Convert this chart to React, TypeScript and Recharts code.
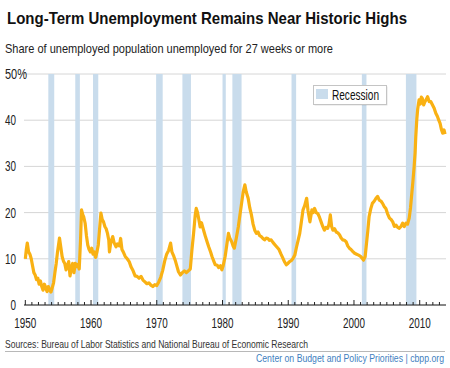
import React from "react";
import {
  CartesianGrid,
  ComposedChart,
  Line,
  ReferenceArea,
  XAxis,
  YAxis,
} from "recharts";

// share of unemployed out 27+ weeks, [year, percent]
const share1950s: [number, number][] = [
  [1950.0, 10.0], [1950.15, 12.0], [1950.3, 13.4], [1950.5, 11.5], [1950.7, 11.0], [1950.9, 10.0],
  [1951.1, 8.5], [1951.3, 7.0], [1951.5, 6.5], [1951.7, 5.5], [1951.9, 5.8], [1952.1, 4.5],
  [1952.3, 5.2], [1952.5, 4.0], [1952.7, 3.2], [1952.9, 4.5], [1953.1, 3.8], [1953.3, 2.9],
  [1953.5, 4.0], [1953.7, 3.2], [1953.9, 2.8], [1954.1, 3.8], [1954.3, 4.8], [1954.5, 7.0],
  [1954.7, 9.0], [1954.9, 11.5], [1955.1, 13.5], [1955.2, 14.5], [1955.4, 12.5], [1955.6, 10.5],
  [1955.8, 9.5], [1956.0, 9.0], [1956.2, 7.6], [1956.4, 8.5], [1956.6, 9.4], [1956.8, 6.3],
  [1957.0, 8.0], [1957.2, 9.0], [1957.4, 7.0], [1957.6, 9.0], [1957.8, 8.3], [1958.0, 8.8],
  [1958.2, 7.8], [1958.4, 14.0], [1958.55, 20.6], [1958.75, 19.5], [1958.9, 19.0], [1959.1, 17.7],
  [1959.3, 15.0], [1959.5, 13.0], [1959.7, 12.0], [1959.9, 11.5],
];

const share1960s: [number, number][] = [
  [1960.1, 12.3], [1960.3, 11.0], [1960.5, 11.5], [1960.7, 10.3], [1960.9, 11.5], [1961.1, 13.0],
  [1961.3, 16.5], [1961.5, 19.9], [1961.7, 18.5], [1961.9, 18.0], [1962.1, 17.0], [1962.3, 16.5],
  [1962.5, 15.5], [1962.7, 14.0], [1962.8, 11.5], [1963.0, 13.5], [1963.3, 14.8], [1963.5, 13.5],
  [1963.8, 12.6], [1964.0, 13.2], [1964.3, 12.8], [1964.5, 14.4], [1964.7, 12.0], [1964.9, 11.5],
  [1965.2, 10.5], [1965.5, 10.0], [1965.8, 9.4], [1966.1, 8.2], [1966.4, 7.4], [1966.7, 6.3],
  [1967.0, 6.2], [1967.3, 5.8], [1967.6, 6.2], [1967.9, 5.4], [1968.2, 5.0], [1968.5, 4.6],
  [1968.8, 4.8], [1969.1, 4.3], [1969.4, 4.0], [1969.7, 4.4],
];

const share1970s: [number, number][] = [
  [1970.0, 4.2], [1970.3, 5.0], [1970.6, 6.0], [1970.9, 7.5], [1971.2, 9.5], [1971.5, 11.0],
  [1971.8, 11.8], [1972.1, 13.4], [1972.3, 11.5], [1972.6, 10.5], [1972.8, 9.7], [1973.1, 8.2],
  [1973.3, 7.2], [1973.6, 6.5], [1973.9, 7.0], [1974.2, 7.4], [1974.5, 7.0], [1974.8, 7.4],
  [1975.1, 7.8], [1975.35, 12.0], [1975.6, 15.5], [1975.85, 19.5], [1976.0, 20.9], [1976.2, 20.0],
  [1976.4, 18.5], [1976.6, 16.9], [1976.8, 17.8], [1977.0, 16.8], [1977.2, 15.8], [1977.4, 14.8],
  [1977.7, 13.5], [1977.9, 12.6], [1978.2, 11.4], [1978.4, 10.5], [1978.7, 9.4], [1978.9, 8.7],
  [1979.2, 8.6], [1979.4, 8.1], [1979.7, 8.5], [1979.9, 7.6],
];

const share1980s: [number, number][] = [
  [1980.1, 8.5], [1980.4, 10.5], [1980.65, 13.0], [1980.9, 15.5], [1981.1, 14.5], [1981.4, 13.7],
  [1981.6, 12.8], [1981.8, 12.3], [1982.1, 14.5], [1982.4, 16.9], [1982.65, 19.5], [1982.9, 22.0],
  [1983.15, 24.5], [1983.4, 26.0], [1983.6, 24.5], [1983.9, 23.1], [1984.15, 21.0], [1984.4, 19.5],
  [1984.65, 17.5], [1984.9, 16.2], [1985.15, 15.5], [1985.4, 15.8], [1985.65, 15.0], [1985.9, 14.8],
  [1986.15, 14.4], [1986.4, 14.1], [1986.65, 14.5], [1986.9, 14.4], [1987.15, 14.0], [1987.4, 14.1],
  [1987.7, 13.5], [1988.0, 13.0], [1988.3, 12.5], [1988.6, 12.0], [1988.9, 11.0], [1989.2, 10.1],
  [1989.45, 9.3], [1989.7, 8.7], [1989.95, 9.0],
];

const share1990s: [number, number][] = [
  [1990.2, 9.4], [1990.45, 9.6], [1990.7, 10.0], [1991.0, 10.8], [1991.25, 12.5], [1991.5, 14.0],
  [1991.75, 15.5], [1992.0, 18.0], [1992.25, 20.6], [1992.5, 21.5], [1992.8, 23.1], [1993.0, 20.5],
  [1993.3, 18.0], [1993.6, 20.6], [1993.8, 20.0], [1994.0, 20.9], [1994.25, 20.0], [1994.5, 19.8],
  [1994.75, 19.0], [1995.0, 18.0], [1995.25, 17.0], [1995.5, 16.2], [1995.75, 16.8], [1996.0, 16.6],
  [1996.2, 17.5], [1996.4, 19.5], [1996.6, 17.0], [1996.8, 16.2], [1997.05, 16.5], [1997.3, 15.8],
  [1997.55, 15.6], [1997.8, 15.2], [1998.05, 14.5], [1998.3, 14.1], [1998.55, 14.0], [1998.8, 13.7],
  [1999.05, 12.8], [1999.3, 12.3], [1999.55, 12.0], [1999.8, 11.6],
];

const share2000s: [number, number][] = [
  [2000.1, 11.2], [2000.4, 11.0], [2000.7, 10.8], [2000.95, 10.6], [2001.2, 10.2], [2001.45, 9.7],
  [2001.7, 10.5], [2001.85, 12.6], [2002.1, 16.0], [2002.3, 19.1], [2002.55, 20.8], [2002.8, 22.0],
  [2003.1, 22.5], [2003.35, 23.1], [2003.6, 23.5], [2003.85, 22.7], [2004.1, 22.5], [2004.35, 22.0],
  [2004.6, 21.3], [2004.85, 20.9], [2005.1, 19.8], [2005.4, 18.8], [2005.65, 18.5], [2005.9, 18.0],
  [2006.15, 17.0], [2006.4, 17.3], [2006.65, 16.8], [2006.9, 16.6], [2007.15, 17.0], [2007.4, 17.7],
  [2007.65, 17.0], [2007.9, 17.7], [2008.15, 17.5], [2008.4, 18.8], [2008.6, 21.0], [2008.75, 23.4],
  [2008.95, 26.5], [2009.15, 29.9], [2009.3, 33.0], [2009.4, 36.4], [2009.55, 40.0], [2009.7, 42.5],
  [2009.9, 44.4],
];

const share2010s: [number, number][] = [
  [2010.1, 43.5], [2010.25, 45.0], [2010.4, 44.7], [2010.6, 43.3], [2010.8, 44.0], [2011.0, 44.5],
  [2011.2, 45.1], [2011.45, 44.0], [2011.7, 44.0], [2011.95, 43.3], [2012.2, 42.6], [2012.45, 41.5],
  [2012.7, 40.8], [2012.9, 40.0], [2013.1, 39.3], [2013.3, 38.0], [2013.5, 37.2], [2013.7, 37.9],
  [2013.85, 37.0],
];

// NBER recessions, [start, end]
const recessions: [number, number][] = [
  [1953.5, 1954.4], [1957.6, 1958.3], [1960.3, 1961.1], [1969.9, 1970.9], [1973.9, 1975.2],
  [1980.0, 1980.5], [1981.5, 1982.9], [1990.5, 1991.2], [2001.2, 2001.9], [2007.9, 2009.5],
];

const decadeLabels = [1950, 1960, 1970, 1980, 1990, 2000, 2010];
const yTicks = [0, 10, 20, 30, 40, 50];

const data = [
  ...share1950s, ...share1960s, ...share1970s, ...share1980s,
  ...share1990s, ...share2000s, ...share2010s,
].map(([year, share]) => ({ year, share }));

const yearTicks: number[] = [];
for (let y = 1950; y <= 2013; y++) yearTicks.push(y);

const FONT = '"Liberation Sans", Arial, sans-serif';

// condensed look: squeeze the text to the width it has in the original
function Squeezed({ x, y, w, size, anchor = "start", bold = false, fill = "#222", children }: any) {
  return (
    <text
      x={x}
      y={y}
      textAnchor={anchor}
      fontSize={size}
      fontWeight={bold ? 700 : 400}
      fill={fill}
      fontFamily={FONT}
      textLength={w}
      lengthAdjust="spacingAndGlyphs"
    >
      {children}
    </text>
  );
}

function YearTick({ x, y, payload }: any) {
  const v = payload.value;
  const major = v % 10 === 0;
  return (
    <g>
      <line x1={x} x2={x} y1={y - (major ? 5 : 3)} y2={y} stroke="#222" strokeWidth={1} />
      {major && decadeLabels.includes(v) ? (
        <Squeezed x={x} y={y + 23} w={22} size={14} anchor="middle">
          {v}
        </Squeezed>
      ) : null}
    </g>
  );
}

function ShareTick({ y, payload }: any) {
  const v = payload.value;
  if (v === 50) {
    return (
      <Squeezed x={5} y={y + 5} w={22} size={14}>
        50%
      </Squeezed>
    );
  }
  const label = String(v);
  return (
    <Squeezed x={16} y={y + 5} w={label.length * 5.5} size={14} anchor="end">
      {label}
    </Squeezed>
  );
}

export default function App() {
  return (
    <div
      style={{
        position: "absolute",
        left: 0,
        top: 0,
        width: 450,
        height: 368,
        background: "#fff",
        overflow: "hidden",
      }}
    >
      <div style={{ position: "absolute", left: 0, top: 0 }}>
        <ComposedChart width={450} height={368} data={data} margin={{ top: 74, right: 4, bottom: 0, left: 0 }}>
          <CartesianGrid vertical={false} stroke="#d6d6d6" />
          {recessions.map(([a, b]) => (
            <ReferenceArea key={a} x1={a} x2={b} y1={0} y2={50} fill="#c9dcec" fillOpacity={1} stroke="none" />
          ))}
          <XAxis
            dataKey="year"
            type="number"
            domain={[1949.8, 2014]}
            ticks={yearTicks}
            interval={0}
            tickSize={0}
            tickMargin={0}
            height={63}
            axisLine={{ stroke: "#222" }}
            tick={<YearTick />}
          />
          <YAxis
            domain={[0, 50]}
            ticks={yTicks}
            width={24}
            axisLine={false}
            tickLine={false}
            tick={<ShareTick />}
          />
          <Line
            type="linear"
            dataKey="share"
            stroke="#f9b113"
            strokeWidth={3.2}
            dot={false}
            isAnimationActive={false}
            strokeLinejoin="round"
          />
        </ComposedChart>
      </div>

      <svg width={450} height={368} style={{ position: "absolute", left: 0, top: 0, pointerEvents: "none" }}>
        <Squeezed x={7} y={24} w={400} size={16.5} bold fill="#111">
          Long-Term Unemployment Remains Near Historic Highs
        </Squeezed>
        <Squeezed x={5} y={53} w={328} size={13.5}>
          Share of unemployed population unemployed for 27 weeks or more
        </Squeezed>

        <rect x={314.5} y={86.5} width={73} height={19} fill="#000" fillOpacity={0.12} />
        <rect x={313.5} y={85.5} width={73} height={19} fill="#fff" stroke="#c4c4c4" />
        <rect x={316} y={89} width={12} height={10} fill="#c9dcec" />
        <Squeezed x={332} y={100} w={47} size={14} fill="#111">
          Recession
        </Squeezed>

        <Squeezed x={5} y={347.5} w={303} size={11} fill="#333">
          Sources: Bureau of Labor Statistics and National Bureau of Economic Research
        </Squeezed>
        <line x1={5} x2={445} y1={351.5} y2={351.5} stroke="#b8b8b8" />
        <Squeezed x={256} y={362} w={188} size={10.5} fill="#3f7fbf">
          Center on Budget and Policy Priorities | cbpp.org
        </Squeezed>
      </svg>
    </div>
  );
}
